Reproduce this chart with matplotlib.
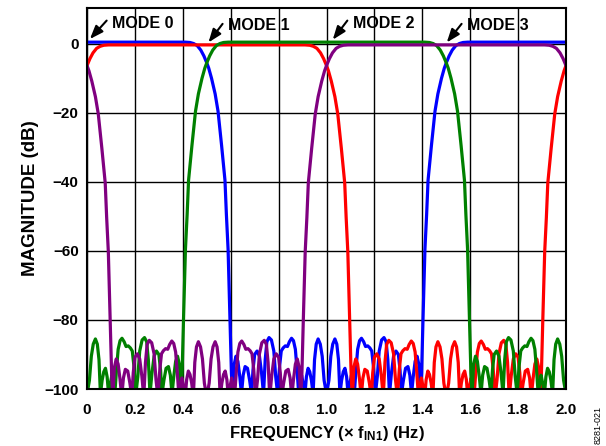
import numpy as np
import matplotlib
matplotlib.use('Agg')
import matplotlib.pyplot as plt

plt.rcParams['font.family'] = ['Liberation Sans', 'DejaVu Sans']
plt.rcParams['mathtext.fontset'] = 'custom'
plt.rcParams['mathtext.rm'] = 'Liberation Sans'
plt.rcParams['mathtext.bf'] = 'Liberation Sans:bold'

# passband + transition, r = distance from passband centre (x f_IN1)
edge_r = [0.0, 0.41, 0.43, 0.445, 0.46, 0.475, 0.488, 0.50, 0.508, 0.52,
          0.535, 0.547, 0.562, 0.576, 0.582, 0.589, 0.597, 0.60]
edge_db = [0.0, 0.0, -0.1, -0.4, -1.0, -2.3, -4.0, -6.0, -7.5, -10.5,
           -15, -20, -30, -40, -50, -60, -80, -88]

# stopband ripple, d = distance from stopband centre
stop_d = [0.000, 0.010, 0.018, 0.026, 0.035, 0.043, 0.050, 0.056,
          0.063, 0.070, 0.077, 0.084, 0.090,
          0.097, 0.104, 0.110, 0.116,
          0.123, 0.130, 0.138, 0.146, 0.155, 0.163, 0.172, 0.181, 0.189, 0.196, 0.204,
          0.212, 0.220, 0.230, 0.240, 0.249, 0.256, 0.263,
          0.271, 0.280, 0.290, 0.300, 0.307, 0.313,
          0.321, 0.330, 0.340, 0.348, 0.355,
          0.362, 0.370, 0.378, 0.386, 0.392, 0.397]
stop_db = [-102, -98, -91, -87.5, -86, -87.5, -92, -102,
           -98, -95.5, -94.5, -97, -102,
           -99, -96.5, -99, -102,
           -95, -89, -86.5, -85.8, -86.8, -88.2, -88, -88.6, -89.5, -94, -102,
           -97, -89.5, -86.3, -85.6, -86.8, -92, -102,
           -96, -91, -89.5, -90.5, -95, -102,
           -98, -94.5, -94, -96.5, -102,
           -97, -92.5, -91, -93.5, -102, -96]

# one curve per mode: passband centre, level offset, colour
centres = [0.0, 0.5, 1.0, 1.5]
offsets = [0.5, -0.3, 0.5, -0.3]
colors = ['#0000ff', '#ff0000', '#008000', '#800080']

modes = ['MODE 0', 'MODE 1', 'MODE 2', 'MODE 3']
tip_x = [0.012, 0.507, 1.026, 1.502]
tip_y = [1.4, 0.4, 1.2, 0.4]
tail_x = [0.082, 0.566, 1.087, 1.564]
tail_y = [6.75, 5.8, 6.75, 5.8]
text_x = [0.106, 0.59, 1.112, 1.585]
text_y = [6.0, 5.3, 6.0, 5.3]

xticks = [0, 0.2, 0.4, 0.6, 0.8, 1.0, 1.2, 1.4, 1.6, 1.8, 2.0]
xticklabels = ['0', '0.2', '0.4', '0.6', '0.8', '1.0', '1.2', '1.4', '1.6', '1.8', '2.0']
yticks = [0, -20, -40, -60, -80, -100]

# half response from passband centre to stopband centre, then mirrored
r_half = np.array(edge_r + [1.0 - d for d in stop_d[::-1]])
db_half = np.array(edge_db + stop_db[::-1])
r_full = np.concatenate([-r_half[::-1], r_half[1:]])
db_full = np.concatenate([db_half[::-1], db_half[1:]])

fig = plt.figure(figsize=(6.06, 4.46), dpi=100)
ax = fig.add_axes([0.1436, 0.1278, 0.7904, 0.8543])

for c, off, col in zip(centres, offsets, colors):
    xs = np.concatenate([c + r_full - 2, c + r_full, c + r_full + 2])
    ys = np.concatenate([db_full, db_full, db_full]) + off
    ax.plot(xs, ys, color=col, lw=2.3, solid_joinstyle='round')

ax.set_xlim(0, 2.0)
ax.set_ylim(-100, 10.4)
ax.set_xticks(xticks)
ax.set_xticklabels(xticklabels)
ax.set_yticks(yticks)
ax.grid(True, color='black', lw=1.0)
ax.set_axisbelow(True)
ax.tick_params(length=0, labelsize=11)
ax.tick_params(axis='x', pad=10)
ax.tick_params(axis='y', pad=6)
for lab in ax.get_xticklabels() + ax.get_yticklabels():
    lab.set_fontweight('bold')
for s in ax.spines.values():
    s.set_linewidth(1.5)

for m, tx, ty, sx, sy, lx, ly in zip(modes, tip_x, tip_y, tail_x, tail_y, text_x, text_y):
    ax.annotate('', xy=(tx, ty), xytext=(sx, sy),
                arrowprops=dict(arrowstyle='-|>,head_length=0.8,head_width=0.3',
                                color='black', lw=1.5, shrinkA=0, shrinkB=0))
    ax.text(lx, ly, m, fontsize=11.5, fontweight='bold', va='center', ha='left')

ax.set_xlabel(r'FREQUENCY (× $\mathbf{f_{IN1}}$) (Hz)', fontsize=12, fontweight='bold', labelpad=5)
ax.set_ylabel('MAGNITUDE (dB)', fontsize=13.5, fontweight='bold', labelpad=4)

fig.text(0.987, 0.005, '8281-021', rotation=90, fontsize=6.5, ha='center', va='bottom')

fig.savefig('out.png', dpi=100)
